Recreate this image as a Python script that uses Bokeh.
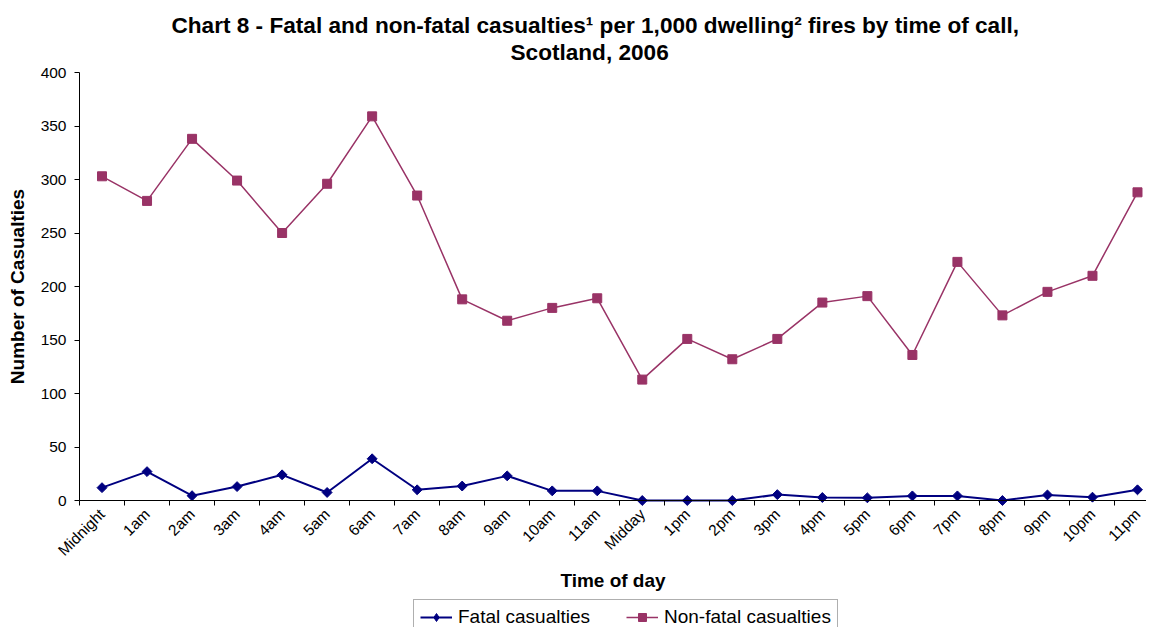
from math import pi
from bokeh.plotting import figure
from bokeh.models import Range1d, FixedTicker, Legend, LegendItem, Title
from bokeh.embed import file_html
from bokeh.resources import INLINE

hours = ["Midnight", "1am", "2am", "3am", "4am", "5am", "6am", "7am", "8am", "9am",
         "10am", "11am", "Midday", "1pm", "2pm", "3pm", "4pm", "5pm", "6pm", "7pm",
         "8pm", "9pm", "10pm", "11pm"]
fatal = [12, 27, 4.5, 13, 24, 7.5, 39, 10, 13.5, 23, 9, 9,
         0, 0, 0, 5.5, 2.8, 2.5, 4.3, 4.3, 0, 5.2, 3.1, 10]
non_fatal = [303, 280, 338, 299, 250, 296, 359, 285, 188, 168, 180, 189,
             113, 151, 132, 151, 185, 191, 136, 223, 173, 195, 210, 288]
y_ticks = [0, 50, 100, 150, 200, 250, 300, 350, 400]

FONT = "Liberation Sans"
x = list(range(len(hours)))

W, H = 1146, 627
AX_LEFT_PX = 79          # where the y axis sits
X_END = 23.2
x_unit = (W - AX_LEFT_PX) / (X_END + 0.5)
X_START = -0.5 - AX_LEFT_PX / x_unit

FRAME_TOP = 64           # frame top (px); value 400 sits at 72 px, value 0 at 500 px
Y_TOP_PX, Y_ZERO_PX = 72, 500
y_unit = (Y_ZERO_PX - Y_TOP_PX) / 400
Y_END = 400 + (Y_TOP_PX - FRAME_TOP) / y_unit
Y_START = Y_END - (H - FRAME_TOP) / y_unit

p = figure(width=W, height=H, output_backend="svg", toolbar_location=None,
           x_range=Range1d(X_START, X_END), y_range=Range1d(Y_START, Y_END),
           min_border_left=0, min_border_right=0, min_border_top=FRAME_TOP,
           min_border_bottom=0)
p.outline_line_color = None
p.xgrid.visible = False
p.ygrid.visible = False
p.background_fill_color = "white"
p.border_fill_color = "white"

# titles (p.title is the outermost line here)
p.title.text = "Chart 8 - Fatal and non-fatal casualties\u00b9 per 1,000 dwelling\u00b2 fires by time of call,"
p.title.align = "left"
p.title.offset = 171
p.title.text_font = FONT
p.title.text_font_size = "22.6px"
p.title.text_font_style = "bold"
p.title.text_color = "black"
p.title.standoff = 0
t2 = Title(text="Scotland, 2006", align="left", offset=510, text_font=FONT,
           text_font_size="22.6px", text_font_style="bold", text_color="black",
           standoff=0)
p.add_layout(t2, "above")

# x axis, pinned at y = 0
xa = p.xaxis[0]
xa.fixed_location = 0
xa.bounds = (-0.5, X_END)
xa.ticker = FixedTicker(ticks=x, minor_ticks=[i - 0.5 for i in range(len(hours) + 1)])
xa.major_label_overrides = {i: h for i, h in enumerate(hours)}
xa.major_label_orientation = pi / 4
xa.major_tick_out = 0
xa.major_tick_in = 0
xa.minor_tick_out = 5
xa.minor_tick_in = 0
xa.minor_tick_line_color = "black"
xa.major_label_standoff = 6
xa.major_label_text_font = FONT
xa.major_label_text_font_size = "15.5px"
xa.major_label_text_color = "black"
xa.axis_label = "Time of day"
xa.axis_label_text_font = FONT
xa.axis_label_text_font_size = "19px"
xa.axis_label_text_font_style = "bold"
xa.axis_label_text_color = "black"
xa.axis_label_standoff = 2
xa.axis_line_color = "black"

# y axis, pinned at the left edge of the first category
ya = p.yaxis[0]
ya.fixed_location = -0.5
ya.ticker = FixedTicker(ticks=y_ticks)
ya.bounds = (0, 400)
ya.major_tick_out = 5
ya.major_tick_in = 0
ya.minor_tick_out = 0
ya.minor_tick_in = 0
ya.major_tick_line_color = "black"
ya.major_label_text_font = FONT
ya.major_label_text_font_size = "15.5px"
ya.major_label_text_color = "black"
ya.major_label_standoff = 8
ya.axis_label = "Number of Casualties"
ya.axis_label_text_font = FONT
ya.axis_label_text_font_size = "19px"
ya.axis_label_text_font_style = "bold"
ya.axis_label_text_color = "black"
ya.axis_label_standoff = 10
ya.axis_line_color = "black"

# series
FATAL_C = "#000080"
NONFATAL_C = "#993366"
l1 = p.line(x, fatal, line_color=FATAL_C, line_width=2)
# diamond used for the legend key; sits hidden under the rotated squares
m1_key = p.scatter(x, fatal, marker="diamond", size=7, fill_color=FATAL_C,
                   line_color=FATAL_C)
m1 = p.scatter(x, fatal, marker="square", angle=pi / 4, size=7, fill_color=FATAL_C,
               line_color=FATAL_C)
l2 = p.line(x, non_fatal, line_color=NONFATAL_C, line_width=1.5)
m2 = p.scatter(x, non_fatal, marker="square", size=9, fill_color=NONFATAL_C,
               line_color=NONFATAL_C)

legend = Legend(items=[LegendItem(label="Fatal casualties", renderers=[l1, m1_key]),
                       LegendItem(label="Non-fatal casualties", renderers=[l2, m2])],
                orientation="horizontal", location=(413, -8), margin=0,
                label_text_font=FONT, label_text_font_size="19px",
                label_text_color="black",
                glyph_width=32, glyph_height=20, label_standoff=6, spacing=36,
                padding=6, border_line_color="#606060", border_line_width=1,
                background_fill_color="white", background_fill_alpha=1)
p.add_layout(legend, "center")

open("out.html", "w").write(file_html(p, INLINE))
